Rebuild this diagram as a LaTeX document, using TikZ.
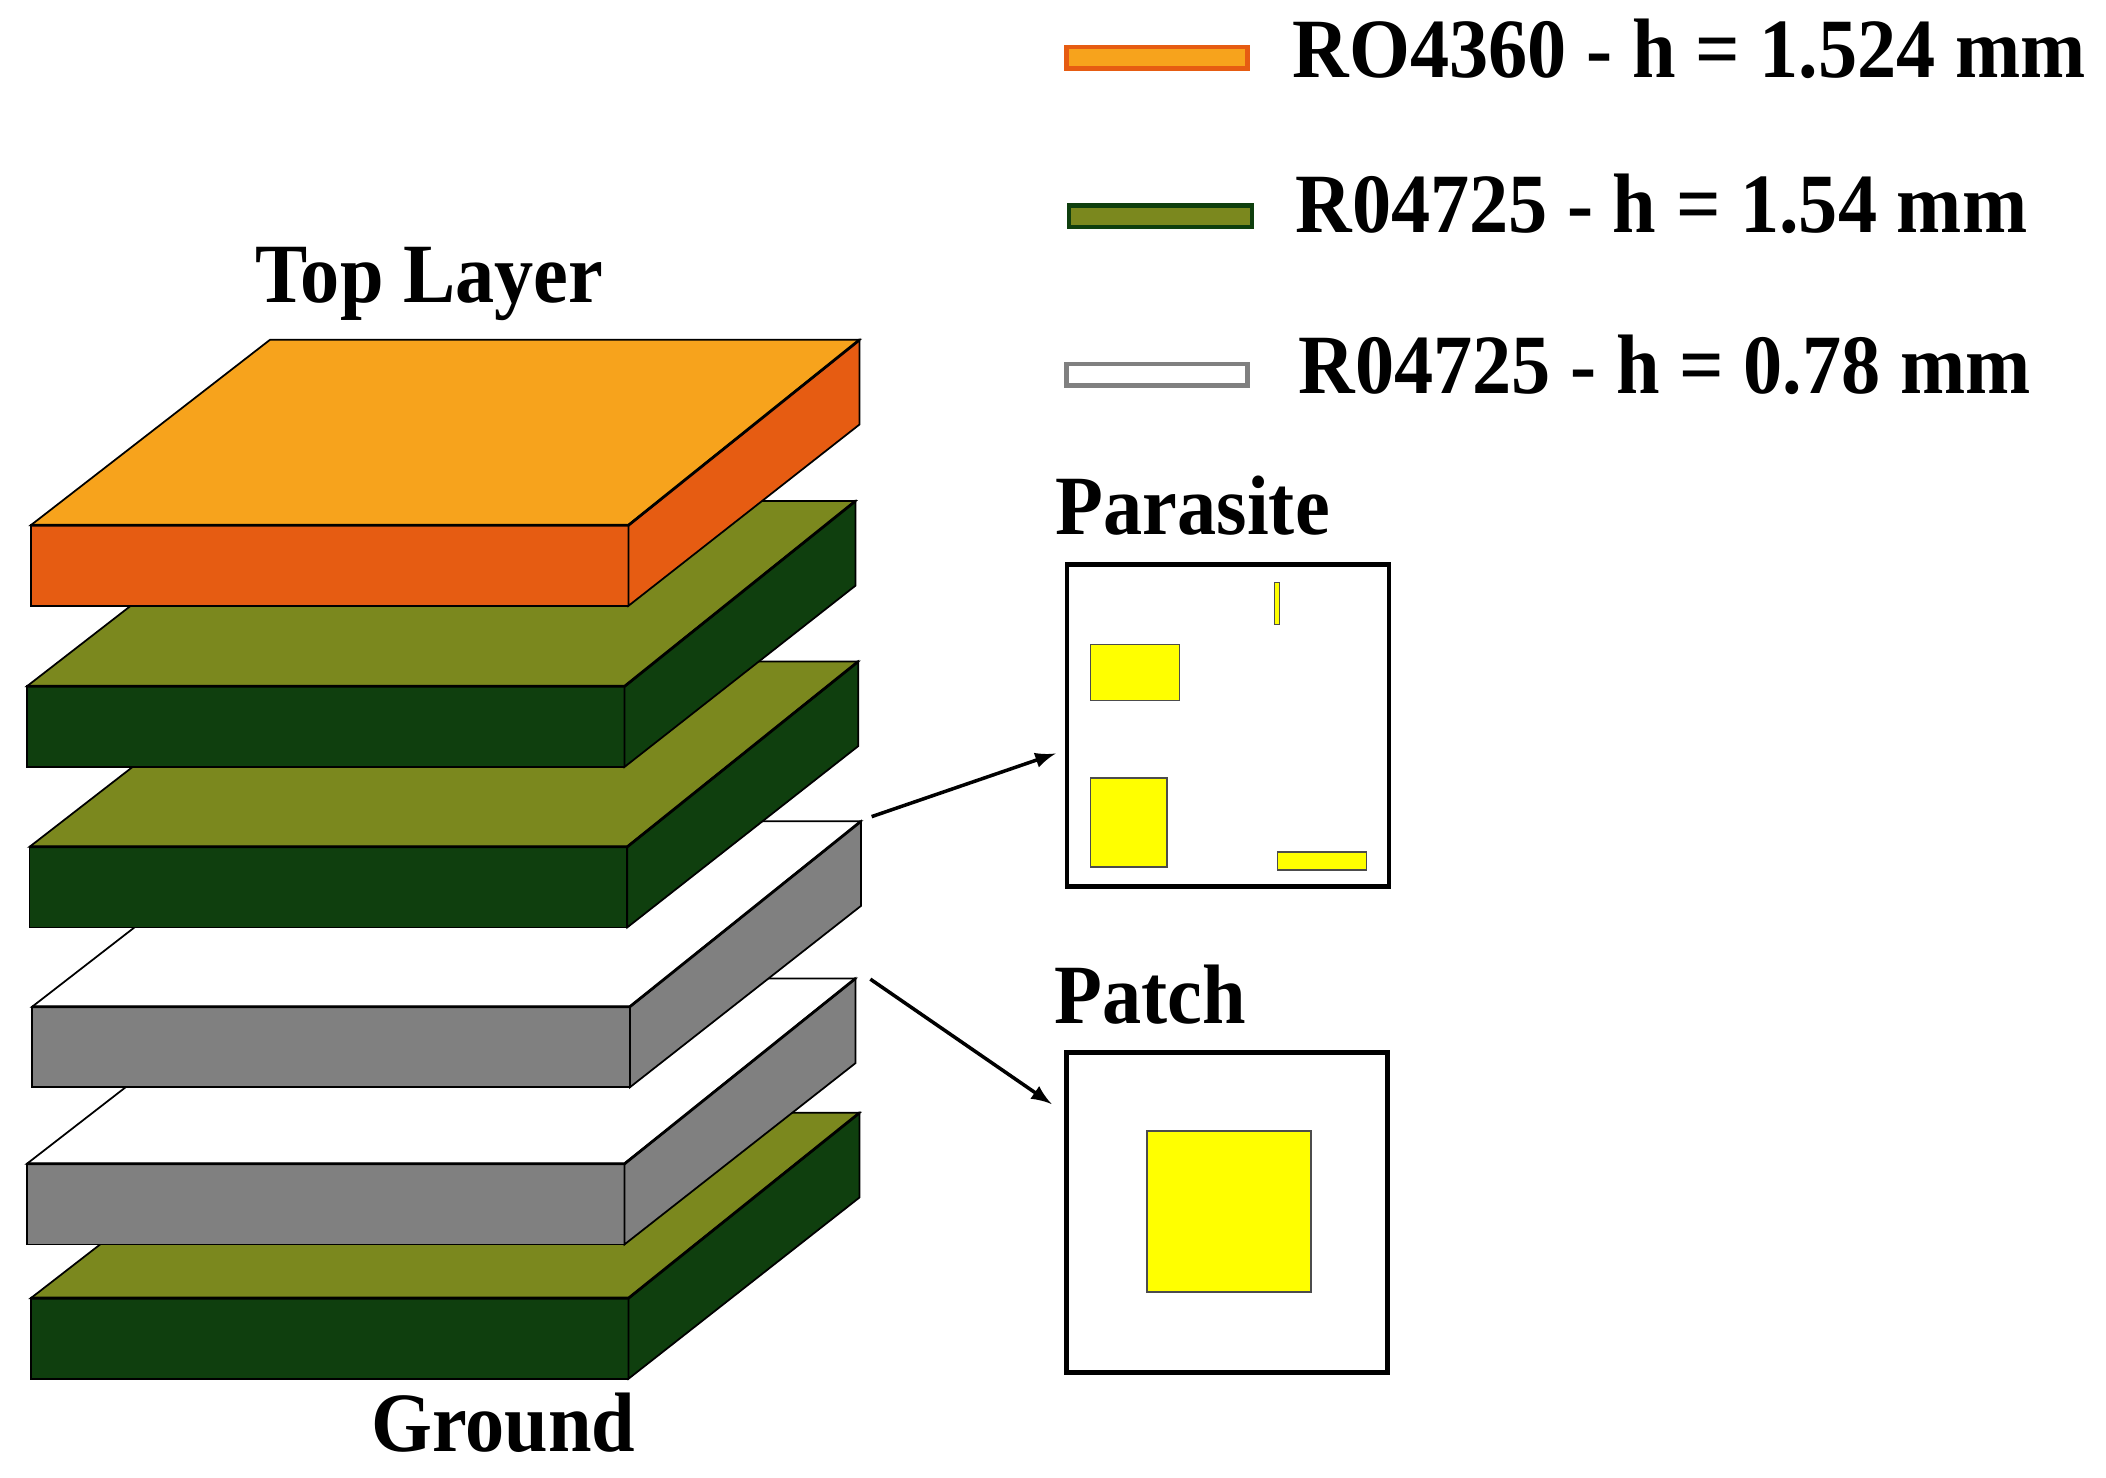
\documentclass[tikz,border=0pt]{standalone}
\usepackage{fontspec}
\setmainfont[FakeStretch=.928]{Liberation Serif}
\definecolor{ROtop}{HTML}{F7A31C}
\definecolor{ROside}{HTML}{E65C12}
\definecolor{FRtop}{HTML}{7B881E}
\definecolor{FRside}{HTML}{0F3F0E}
\definecolor{FOAMside}{HTML}{808080}
\definecolor{CPR}{HTML}{FFFF00}
\tikzset{
  lbl/.style={anchor=base west,inner sep=0pt,font=\fontsize{24}{24}\selectfont\bfseries},
  swatch/.style={line width=1.3pt},
  frame/.style={draw,line width=1.3pt},
  cpr/.style={draw=black!70,line width=.4pt,fill=CPR}
}

\begin{document}
\begin{tikzpicture}[x=.013431cm,y=-.013431cm, >=latex]
  \useasboundingbox (0,0) rectangle (1568,1099.7);

  % layers, bottom one first
  \foreach \x/\y/\ctop/\cside in {23/966.5/FRtop/FRside, 20/866.5/white/FOAMside, 24/749.5/white/FOAMside, 22/630.5/FRtop/FRside, 20/511/FRtop/FRside, 23/391/ROtop/ROside} {
    \draw[fill=\ctop,line width=.5pt] (\x,\y) -- ++(445,0) -- ++(172,-138) -- ++(-439,0) -- cycle;
    \draw[fill=\cside,line width=.5pt] (\x,\y) rectangle ++(445,60);
    \draw[fill=\cside,line width=.5pt] (\x+445,\y) -- ++(172,-138) -- ++(0,63) -- ++(-172,135) -- cycle;
    \draw[line width=.8pt] (\x,\y) -- ++(445,0) -- ++(172,-138);
  }

  \node[lbl] (toplabel) at (190,225) {Top Layer};
  \node[lbl] (groundlabel) at (276,1081) {Ground};

  % legend
  \draw[swatch,draw=ROside,fill=ROtop] (794,35) rectangle (929,51);
  \draw[swatch,draw=FRside,fill=FRtop] (796,153) rectangle (932,169);
  \draw[swatch,draw=FOAMside,fill=white] (794,271) rectangle (929,287);
  \node[lbl] (leg1) at (962,58) {RO4360 - h = 1.524 mm};
  \node[lbl] (leg2) at (964,173) {R04725 - h = 1.54 mm};
  \node[lbl] (leg3) at (966.5,293) {R04725 - h = 0.78 mm};

  % parasite
  \node[lbl] (parasitelabel) at (785.6,398) {Parasite};
  \draw[frame] (794.5,420.5) rectangle (1034,660);
  \draw[cpr] (949,433.6) rectangle (952.5,464.8);
  \draw[cpr] (811.9,480) rectangle (878.1,521.5);
  \draw[cpr] (811.9,579.3) rectangle (869,645.6);
  \draw[cpr] (951,634.4) rectangle (1017.6,647.6);

  % patch
  \node[lbl] (patchlabel) at (784.5,762) {Patch};
  \draw[frame] (794,783.5) rectangle (1033,1022);
  \draw[cpr] (854,842) rectangle (976,962);

  \coordinate (parasitefrom) at (649,608);
  \coordinate (parasiteto) at (786,561);
  \coordinate (patchfrom) at (648,729);
  \coordinate (patchto) at (783,822);
  \draw[->,line width=1pt] (parasitefrom) -- (parasiteto);
  \draw[->,line width=1pt] (patchfrom) -- (patchto);
\end{tikzpicture}
\end{document}
